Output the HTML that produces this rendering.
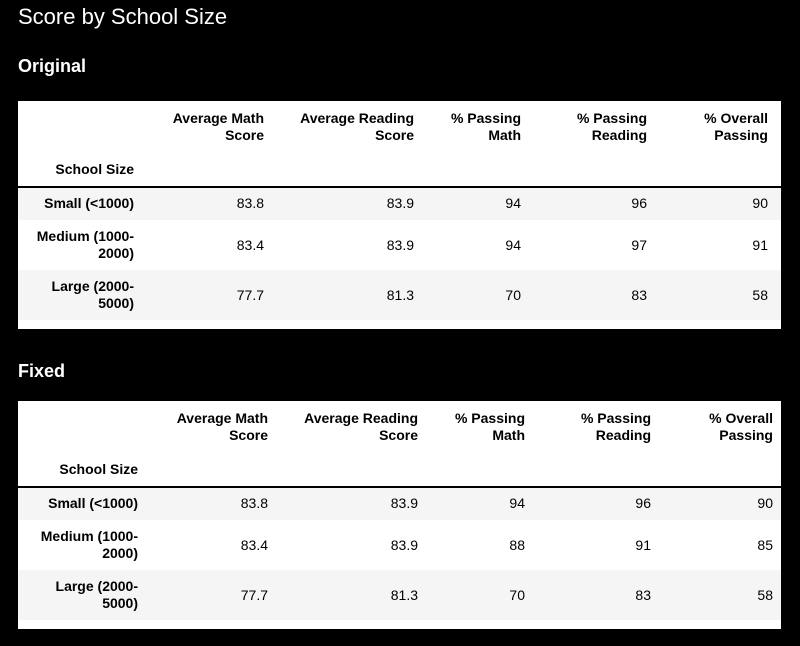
<!DOCTYPE html>
<html><head><meta charset="utf-8"><style>
body{margin:0;width:800px;height:646px;background:#000;font-family:"Liberation Sans",sans-serif;position:relative;overflow:hidden}
.t{position:absolute;color:#fff}
.box{position:absolute;left:18px;width:763px;background:#fff}
.c{position:absolute;font-size:14px;color:#000;text-align:right;line-height:17px}
.h{font-weight:bold}
.row{position:absolute;left:0;width:763px}
.line{position:absolute;left:0;width:763px;height:1px;background:#000}
</style></head><body>
<div class="t" style="left:18px;top:4px;font-size:22px">Score by School Size</div>
<div class="t" style="left:18px;top:56px;font-size:18px;font-weight:bold">Original</div>
<div class="t" style="left:18px;top:361px;font-size:18px;font-weight:bold">Fixed</div>
<div class="box" id="b1" style="top:101px;height:228px"></div>
<div class="box" id="b2" style="top:401px;height:228px"></div>
<script>
const headers=[["Average Math","Score"],["Average Reading","Score"],["% Passing","Math"],["% Passing","Reading"],["% Overall","Passing"]];
const rowLabels=[["Small (<1000)"],["Medium (1000-","2000)"],["Large (2000-","5000)"]];
const origValues=[["83.8","83.9","94","96","90"],["83.4","83.9","94","97","91"],["77.7","81.3","70","83","58"]];
const fixedValues=[["83.8","83.9","94","96","90"],["83.4","83.9","88","91","85"],["77.7","81.3","70","83","58"]];
function build(id,vals,rights){
  const b=document.getElementById(id);
  const add=(html,style,cls,name)=>{const d=document.createElement('div');d.className=cls;d.style.cssText=style;d.innerHTML=html;
    
    
    b.appendChild(d);return d;};
  const rowTops=[86,119,169],rowH=[33,50,50];
  rowTops.forEach((t,i)=>{if(i!==1)add('','top:'+t+'px;height:'+rowH[i]+'px;background:#f5f5f5','row','row-bg');});
  add('','top:85px;height:1.5px','line','header-rule');
  headers.forEach((h,j)=>add(h.join('<br>'),'top:9px;right:'+(763-rights[j+1])+'px','c h','column-header'));
  add('School Size','top:60px;right:'+(763-rights[0])+'px','c h','index-name');
  rowLabels.forEach((l,i)=>{
    const mid=rowTops[i]+rowH[i]/2;
    add(l.join('<br>'),'top:'+(mid-l.length*8.5)+'px;right:'+(763-rights[0])+'px','c h','row-label');
    vals[i].forEach((v,j)=>add(v,'top:'+(mid-8.5)+'px;right:'+(763-rights[j+1])+'px','c','cell-value'));
  });
}
build('b1',origValues,[116,246,396,503,629,750]);
build('b2',fixedValues,[120,250,400,507,633,755]);
</script>
</body></html>
